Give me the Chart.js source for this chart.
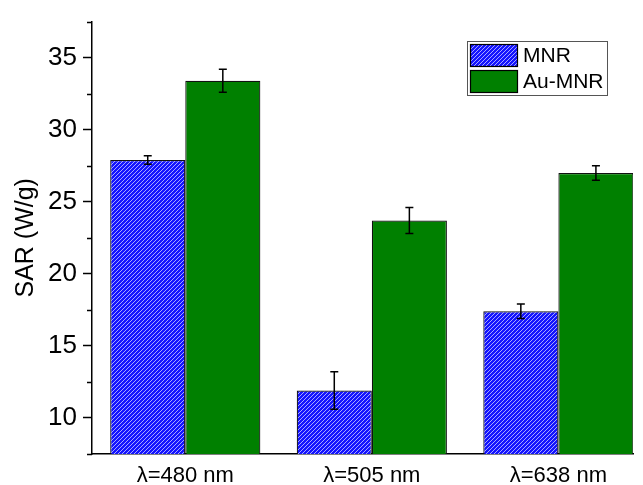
<!DOCTYPE html>
<html>
<head>
<meta charset="utf-8">
<script src="https://cdn.jsdelivr.net/npm/chart.js@4.4.0/dist/chart.umd.min.js"></script>
<style>
  html, body { margin: 0; padding: 0; background: #fff; }
</style>
</head>
<body>
<canvas id="sarChart" width="643" height="485"></canvas>
<script>
// chart data
const categories = ['λ=480 nm', 'λ=505 nm', 'λ=638 nm'];
const mnrValues = [27.9, 11.9, 17.4];
const mnrErrors = [0.3, 1.3, 0.5];
const auMnrValues = [33.4, 23.7, 27.0];
const auMnrErrors = [0.8, 0.9, 0.5];
const yMajorTicks = [10, 15, 20, 25, 30, 35];
const yMinorTicks = [7.5, 12.5, 17.5, 22.5, 27.5, 32.5, 37.5];

const FONT = '"Liberation Sans", Arial, sans-serif';

// blue hatch pattern for the MNR bars
function makeHatch() {
  const c = document.createElement('canvas');
  c.width = 4;
  c.height = 4;
  const g = c.getContext('2d');
  g.fillStyle = '#1414ff';
  g.fillRect(0, 0, 4, 4);
  g.strokeStyle = '#a6a6ff';
  g.lineWidth = 1;
  g.beginPath();
  g.moveTo(-1, 5); g.lineTo(5, -1);
  g.moveTo(-1, 1); g.lineTo(1, -1);
  g.moveTo(3, 5); g.lineTo(5, 3);
  g.stroke();
  return g.createPattern(c, 'repeat');
}
const hatch = makeHatch();

const toPoints = (vals) => vals.map((v, i) => ({ x: i + 1, y: v }));

// error bars drawn on top of each bar
const errorBars = {
  id: 'errorBars',
  afterDatasetsDraw(chart) {
    const ctx = chart.ctx;
    const y = chart.scales.y;
    ctx.save();
    ctx.strokeStyle = '#000';
    ctx.lineWidth = 1.5;
    chart.data.datasets.forEach((ds, i) => {
      chart.getDatasetMeta(i).data.forEach((bar, j) => {
        const v = ds.data[j].y;
        const e = ds.errors[j];
        const top = y.getPixelForValue(v + e);
        const bot = y.getPixelForValue(v - e);
        ctx.beginPath();
        ctx.moveTo(bar.x, top); ctx.lineTo(bar.x, bot);
        ctx.moveTo(bar.x - 4, top); ctx.lineTo(bar.x + 4, top);
        ctx.moveTo(bar.x - 4, bot); ctx.lineTo(bar.x + 4, bot);
        ctx.stroke();
      });
    });
    ctx.restore();
  }
};

// short minor ticks on the y axis
const minorTicks = {
  id: 'minorTicks',
  afterDraw(chart) {
    const ctx = chart.ctx;
    const y = chart.scales.y;
    const left = chart.chartArea.left;
    ctx.save();
    ctx.strokeStyle = '#000';
    ctx.lineWidth = 1.5;
    yMinorTicks.forEach((v) => {
      const py = Math.round(y.getPixelForValue(v)) + 0.5;
      ctx.beginPath();
      ctx.moveTo(left - 5, py);
      ctx.lineTo(left, py);
      ctx.stroke();
    });
    ctx.restore();
  }
};

// boxed legend in the upper right corner
const boxLegend = {
  id: 'boxLegend',
  afterDraw(chart) {
    const ctx = chart.ctx;
    ctx.save();
    ctx.fillStyle = '#fff';
    ctx.fillRect(467, 41, 140, 54);
    ctx.strokeStyle = '#555';
    ctx.lineWidth = 1;
    ctx.strokeRect(467.5, 41.5, 140, 54);
    ctx.font = '21px ' + FONT;
    ctx.textBaseline = 'middle';
    chart.data.datasets.forEach((ds, i) => {
      const top = 44 + i * 26;
      ctx.fillStyle = ds.backgroundColor;
      ctx.fillRect(470, top, 47, 23);
      ctx.strokeStyle = '#000';
      ctx.lineWidth = 1.2;
      ctx.strokeRect(470.5, top + 0.5, 47, 22);
      ctx.fillStyle = '#000';
      ctx.fillText(ds.label, 523, top + 12);
    });
    ctx.restore();
  }
};

new Chart(document.getElementById('sarChart'), {
  type: 'bar',
  data: {
    datasets: [
      {
        label: 'MNR',
        data: toPoints(mnrValues),
        errors: mnrErrors,
        backgroundColor: hatch,
        borderColor: '#111',
        borderWidth: 1.2,
        categoryPercentage: 0.805,
        barPercentage: 1.0
      },
      {
        label: 'Au-MNR',
        data: toPoints(auMnrValues),
        errors: auMnrErrors,
        backgroundColor: '#008000',
        borderColor: '#111',
        borderWidth: 1.2,
        categoryPercentage: 0.805,
        barPercentage: 1.0
      }
    ]
  },
  options: {
    responsive: false,
    animation: false,
    devicePixelRatio: 1,
    layout: { padding: { top: 15, right: 10, left: 0, bottom: 0 } },
    plugins: {
      legend: { display: false },
      tooltip: { enabled: false }
    },
    scales: {
      x: {
        type: 'linear',
        min: 0.5,
        max: 3.4,
        offset: false,
        afterBuildTicks: (scale) => {
          scale.ticks = categories.map((c, i) => ({ value: i + 1 }));
        },
        afterFit: (scale) => { scale.height = 31; },
        grid: { display: false, drawTicks: false, offset: false },
        border: { display: true, color: '#000', width: 1.5 },
        ticks: {
          color: '#000',
          padding: 9,
          maxRotation: 0,
          autoSkip: false,
          font: { family: FONT, size: 22 },
          callback: (v) => categories[v - 1]
        }
      },
      y: {
        min: 7.5,
        max: 37.5,
        afterBuildTicks: (scale) => {
          scale.ticks = yMajorTicks.map((v) => ({ value: v }));
        },
        afterFit: (scale) => { scale.width = 92; },
        grid: {
          drawOnChartArea: false,
          drawTicks: true,
          tickLength: 9,
          tickWidth: 1.5,
          tickColor: '#000'
        },
        border: { display: true, color: '#000', width: 1.5 },
        ticks: {
          color: '#000',
          padding: 6,
          font: { family: FONT, size: 26 }
        },
        title: {
          display: true,
          text: 'SAR (W/g)',
          color: '#000',
          padding: { top: 11, bottom: 0 },
          font: { family: FONT, size: 25 }
        }
      }
    }
  },
  plugins: [errorBars, minorTicks, boxLegend]
});
</script>
</body>
</html>
